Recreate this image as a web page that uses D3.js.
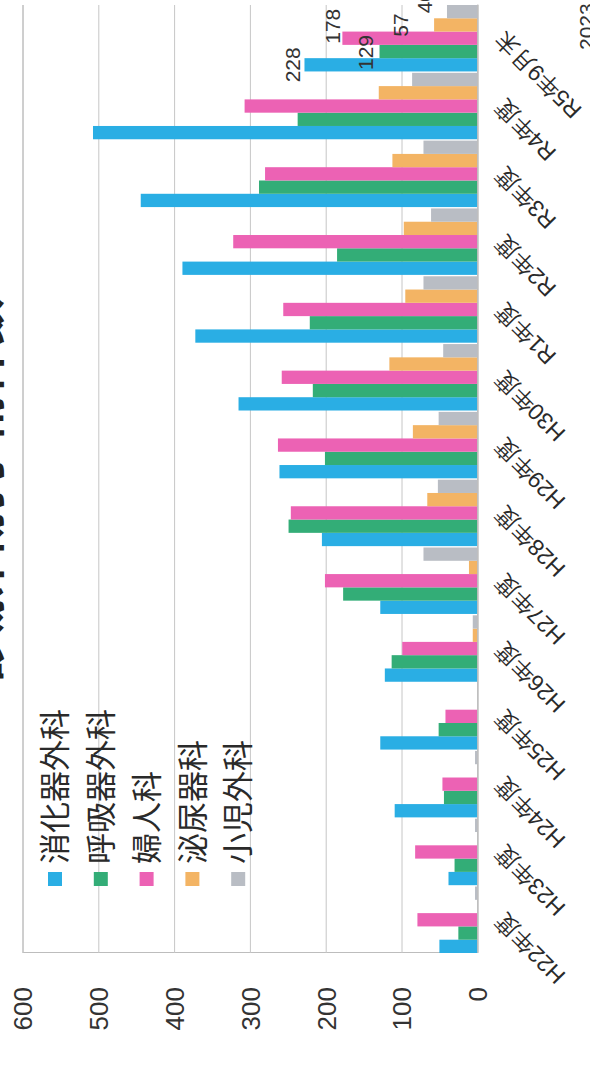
<!DOCTYPE html>
<html>
<head>
<meta charset="utf-8">
<script src="https://cdn.jsdelivr.net/npm/d3@7"></script>
<style>
  html, body { margin: 0; padding: 0; background: #fff; }
  svg { display: block; font-family: "Liberation Sans", "Noto Sans CJK JP", sans-serif; }
</style>
</head>
<body>
<div id="chart"></div>
<script>
// categories (fiscal years) and series names
var categories = ["H22年度","H23年度","H24年度","H25年度","H26年度","H27年度","H28年度",
                  "H29年度","H30年度","R1年度","R2年度","R3年度","R4年度","R5年9月末"];
var seriesNames = ["消化器外科","呼吸器外科","婦人科","泌尿器科","小児外科"];
var seriesColors = ["#2aaee4","#33ad77","#ec62b4","#f3b464","#b9bdc4"];

// values
var digestive   = [50, 38, 109, 128, 122, 128, 205, 261, 315, 372, 389, 444, 507, 228];
var respiratory = [25, 30, 44, 51, 113, 177, 249, 201, 217, 221, 185, 288, 237, 129];
var gynecology  = [79, 82, 46, 42, 99, 201, 246, 263, 258, 256, 322, 280, 307, 178];
var urology     = [0, 0, 0, 0, 6, 11, 66, 85, 116, 95, 97, 112, 130, 57];
var pediatric   = [3, 3, 3, 0, 6, 71, 52, 51, 45, 71, 61, 71, 86, 40];

var valueTicks = [0, 100, 200, 300, 400, 500, 600];
var titleText = "診療科別手術件数";
var noteText = "2023";

var allSeries = [digestive, respiratory, gynecology, urology, pediatric];

var W = 590, H = 1068;

var svg = d3.select("#chart").append("svg")
	.attr("width", W)
	.attr("height", H);

svg.append("rect").attr("width", W).attr("height", H).attr("fill", "#ffffff");

// the whole chart is drawn upright, then turned a quarter turn to the left
var g = svg.append("g")
	.attr("transform", "translate(0," + H + ") rotate(-90)");

var plotLeft = 115, plotRight = 1063;

var x0 = d3.scaleBand()
	.domain(categories)
	.range([plotLeft, plotRight])
	.paddingInner(0.02)
	.paddingOuter(0.0);

var x1 = d3.scaleBand()
	.domain(seriesNames)
	.range([0, x0.bandwidth()]);

var y = d3.scaleLinear()
	.domain([0, 600])
	.range([477.3, 22.5]);

// gridlines + value labels
var yAxis = g.append("g")
	.attr("transform", "translate(" + plotLeft + ",0)")
	.call(d3.axisLeft(y)
		.tickValues(valueTicks)
		.tickSize(-(plotRight - plotLeft))
		.tickPadding(34)
		.tickFormat(d3.format("d")));

yAxis.select(".domain")
	.attr("stroke", "#bdbdbd")
	.attr("stroke-width", 1.2);
yAxis.selectAll(".tick line")
	.attr("stroke", "#c6c6c6")
	.attr("stroke-width", 1);
yAxis.selectAll(".tick text")
	.attr("fill", "#333")
	.attr("font-size", "26px")
	.attr("dy", "0.36em");

// bars
var groups = g.append("g").selectAll("g")
	.data(categories)
	.enter()
	.append("g")
	.attr("transform", function(d) { return "translate(" + x0(d) + ",0)"; });

groups.selectAll("rect")
	.data(function(d, i) {
		return seriesNames.map(function(s, j) { return {series: s, idx: j, value: allSeries[j][i]}; });
	})
	.enter()
	.append("rect")
	.attr("x", function(d) { return x1(d.series); })
	.attr("width", x1.bandwidth())
	.attr("y", function(d) { return y(d.value); })
	.attr("height", function(d) { return y(0) - y(d.value); })
	.attr("fill", function(d) { return seriesColors[d.idx]; });

// category axis
var xAxis = g.append("g")
	.attr("transform", "translate(0," + y(0) + ")")
	.call(d3.axisBottom(x0).tickSize(0));

xAxis.select(".domain")
	.attr("stroke", "#bdbdbd")
	.attr("stroke-width", 1.2);
xAxis.selectAll(".tick text")
	.attr("fill", "#2a2a2a")
	.attr("font-size", "23px")
	.attr("x", 0)
	.attr("y", 0)
	.attr("dy", 0)
	.attr("text-anchor", "end")
	.attr("transform", "translate(8,27) rotate(-45)");

// value labels on the last period
var last = categories.length - 1;
var labelNudge = [[0, -4], [-1, -7], [12, -2], [0, -26], [10, -15]];
g.append("g").selectAll("text")
	.data(seriesNames)
	.enter()
	.append("text")
	.attr("x", function(d, j) { return x0(categories[last]) + x1(d) + x1.bandwidth() / 2 + labelNudge[j][0]; })
	.attr("y", function(d, j) { return y(allSeries[j][last]) + labelNudge[j][1]; })
	.attr("text-anchor", "middle")
	.attr("font-size", "21px")
	.attr("fill", "#333")
	.text(function(d, j) { return allSeries[j][last]; });

// legend
var legend = g.append("g").selectAll("g")
	.data(seriesNames)
	.enter()
	.append("g")
	.attr("transform", function(d, i) { return "translate(182," + (55 + i * 45.8) + ")"; });

legend.append("rect")
	.attr("x", 0)
	.attr("y", -7)
	.attr("width", 14)
	.attr("height", 14)
	.attr("fill", function(d, i) { return seriesColors[i]; });

legend.append("text")
	.attr("x", 22)
	.attr("y", 0)
	.attr("dy", "0.36em")
	.attr("font-size", "31px")
	.attr("fill", "#2a2a2a")
	.text(function(d) { return d; });

// title, mostly off the page as in the scan
g.append("text")
	.attr("x", 578)
	.attr("y", -1)
	.attr("text-anchor", "middle")
	.attr("font-size", "48px")
	.attr("font-weight", "bold")
	.attr("fill", "#222")
	.text(titleText);

// note at the corner
g.append("text")
	.attr("x", 1018)
	.attr("y", 594)
	.attr("font-size", "21px")
	.attr("fill", "#333")
	.text(noteText);
</script>
</body>
</html>
